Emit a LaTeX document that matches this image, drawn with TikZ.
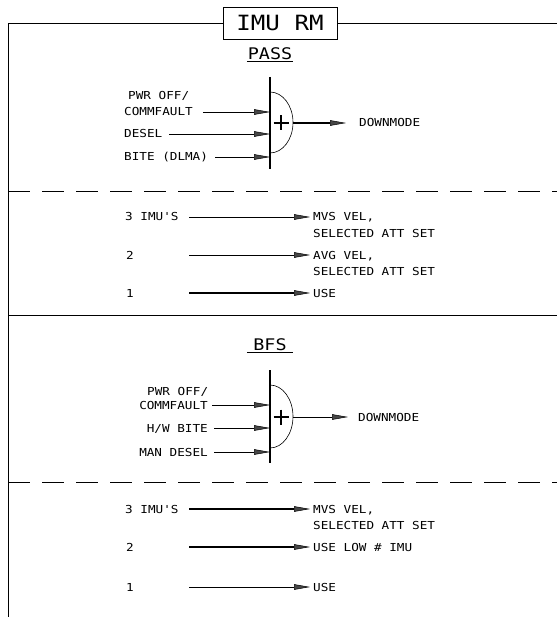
\documentclass[tikz,border=0pt]{standalone}
\usepackage{fontspec}
\usepackage{tikz}
\usetikzlibrary{arrows.meta,positioning,calc}
\newfontfamily\cadfont{DejaVu Sans Mono}[FakeStretch=1.15]
\definecolor{ink}{RGB}{0,0,0}
\definecolor{headgray}{RGB}{70,70,70}
\tikzset{
  sigarr/.style={-{Triangle[length=16pt,width=5.5pt,fill=headgray,line width=0.5pt]}, ink, line width=0.8pt},
  thkarr/.style={-{Triangle[length=16pt,width=5.5pt,fill=headgray,line width=0.5pt]}, ink, line width=1.7pt},
  lbl/.style={font=\cadfont\fontsize{11}{13}\selectfont, inner sep=0pt, text height=8pt, text depth=0pt},
  hdr/.style={font=\cadfont\fontsize{16}{18}\selectfont, inner xsep=0pt, inner ysep=1.5pt, minimum width=46pt},
  ttlbox/.style={draw=ink, line width=0.8pt, font=\cadfont\fontsize{21}{24}\selectfont,
                 minimum width=114pt, minimum height=32pt, inner sep=0pt},
  frm/.style={ink, line width=0.8pt},
  sepln/.style={ink, line width=0.8pt, dash pattern=on 22pt off 12pt},
  sumbar/.style={ink, line width=2pt},
  sumarc/.style={ink, line width=0.6pt},
}

\begin{document}
\begin{tikzpicture}[x=1pt,y=-1pt]
  \useasboundingbox (0,0) rectangle (557,617);
  \node[ttlbox] (ttl) at (280,23) {IMU RM};
  \draw[frm] (ttl.west) -- (8,23) -- (8,617);
  \draw[frm] (ttl.east) -- (557,23);

  % PASS
  \node[hdr] (pass) at (270,54) {PASS};
  \draw[frm] (pass.south west) -- (pass.south east);
  \coordinate (pbtop) at (270,77);
  \coordinate (pbbot) at (270,169);
  \coordinate (psum) at (281,123);
  \coordinate (pout) at (293,123);
  \draw[sumbar] (pbtop) -- (pbbot);
  \draw[sumarc] (270,92) arc[start angle=-90,end angle=90,x radius=23,y radius=30.5];
  \draw[ink, line width=1.5pt] ($(psum)+(-7.5,0)$) -- ($(psum)+(7.5,0)$)
                               ($(psum)+(0,-7.5)$) -- ($(psum)+(0,7.5)$);
  \node[lbl, anchor=west] (ppwr) at (128,96) {PWR OFF/};
  \node[lbl, anchor=west] (pcf) at (124,112) {COMMFAULT};
  \node[lbl, anchor=west] (pds) at (124,134) {DESEL};
  \node[lbl, anchor=west] (pbt) at (124,157) {BITE (DLMA)};
  \draw[sigarr, shorten <=10pt] (pcf) -- (pcf -| pbtop);
  \draw[sigarr, shorten <=7pt] (pds) -- (pds -| pbtop);
  \draw[sigarr, shorten <=7pt] (pbt) -- (pbt -| pbtop);
  \node[lbl, anchor=west] (pdm) at (359,123) {DOWNMODE};
  \draw[thkarr, shorten >=13pt] (pout) -- (pdm);

  \draw[sepln] (8,191) -- (557,191);

  \node[lbl, anchor=west] (p3) at (125,217) {3 IMU'S};
  \node[lbl, anchor=west] (p2) at (126,255) {2};
  \node[lbl, anchor=west] (p1) at (126,293) {1};
  \coordinate (p3s) at (189,217);
  \coordinate (p2s) at (189,255);
  \coordinate (p1s) at (189,293);
  \node[lbl, anchor=west] (pmvs) at (313,217) {MVS VEL,};
  \node[lbl, below right=8pt and 0pt of pmvs.south west] (pmvs2) {SELECTED ATT SET};
  \node[lbl, anchor=west] (pavg) at (313,255) {AVG VEL,};
  \node[lbl, below right=8pt and 0pt of pavg.south west] (pavg2) {SELECTED ATT SET};
  \node[lbl, anchor=west] (puse) at (313,293) {USE};
  \draw[sigarr, shorten >=3pt] (p3s) -- (pmvs);
  \draw[sigarr, shorten >=3pt] (p2s) -- (pavg);
  \draw[thkarr, shorten >=3pt] (p1s) -- (puse);

  \draw[frm] (8,315) -- (557,315);

  % BFS
  \node[hdr] (bfs) at (270,345) {BFS};
  \draw[frm] (bfs.south west) -- (bfs.south east);
  \coordinate (bbtop) at (270,370);
  \coordinate (bbbot) at (270,463);
  \coordinate (bsum) at (281,417);
  \coordinate (bout) at (293,417);
  \draw[sumbar] (bbtop) -- (bbbot);
  \draw[sumarc] (270,385) arc[start angle=-90,end angle=90,x radius=23,y radius=31.5];
  \draw[ink, line width=1.5pt] ($(bsum)+(-7.5,0)$) -- ($(bsum)+(7.5,0)$)
                               ($(bsum)+(0,-7.5)$) -- ($(bsum)+(0,7.5)$);
  \node[lbl, anchor=west] (bpwr) at (147,391) {PWR OFF/};
  \node[lbl, anchor=east] (bcf) at (208,405) {COMMFAULT};
  \node[lbl, anchor=east] (bhw) at (208,428) {H/W BITE};
  \node[lbl, anchor=east] (bmd) at (208,452) {MAN DESEL};
  \draw[sigarr, shorten <=4pt] (bcf) -- (bcf -| bbtop);
  \draw[sigarr, shorten <=6pt] (bhw) -- (bhw -| bbtop);
  \draw[sigarr, shorten <=6pt] (bmd) -- (bmd -| bbtop);
  \node[lbl, anchor=west] (bdm) at (358,417) {DOWNMODE};
  \draw[sigarr, shorten >=10pt] (bout) -- (bdm);

  \draw[sepln] (8,482) -- (557,482);

  \node[lbl, anchor=west] (b3) at (125,509) {3 IMU'S};
  \node[lbl, anchor=west] (b2) at (126,547) {2};
  \node[lbl, anchor=west] (b1) at (126,587) {1};
  \coordinate (b3s) at (189,509);
  \coordinate (b2s) at (189,547);
  \coordinate (b1s) at (189,587);
  \node[lbl, anchor=west] (bmvs) at (313,509) {MVS VEL,};
  \node[lbl, below right=8pt and 0pt of bmvs.south west] (bmvs2) {SELECTED ATT SET};
  \node[lbl, anchor=west] (blow) at (313,547) {USE LOW \# IMU};
  \node[lbl, anchor=west] (buse) at (313,587) {USE};
  \draw[thkarr, shorten >=3pt] (b3s) -- (bmvs);
  \draw[thkarr, shorten >=3pt] (b2s) -- (blow);
  \draw[sigarr, shorten >=3pt] (b1s) -- (buse);
\end{tikzpicture}
\end{document}
